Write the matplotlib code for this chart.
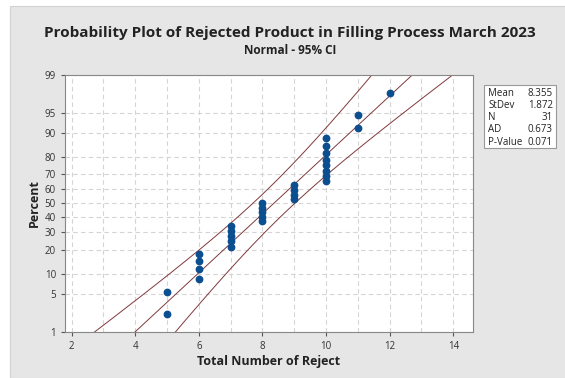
import matplotlib
matplotlib.use("Agg")
import matplotlib.pyplot as plt
from matplotlib.patches import Rectangle
from statistics import NormalDist
import numpy as np

plt.rcParams['font.family'] = ['Open Sans', 'DejaVu Sans']

# reject counts and how many days had each count
reject_values = [5, 6, 7, 8, 9, 10, 11, 12]
reject_counts = [2, 4, 5, 5, 4, 8, 2, 1]

pct_ticks = [1, 5, 10, 20, 30, 40, 50, 60, 70, 80, 90, 95, 99]
x_ticks = [2, 4, 6, 8, 10, 12, 14]

stat_labels = ["Mean", "StDev", "N", "AD", "P-Value"]
stat_values = ["8.355", "1.872", "31", "0.673", "0.071"]

nd = NormalDist()
z = lambda p: nd.inv_cdf(p / 100.0)

data = np.repeat(reject_values, reject_counts)
n = len(data)
mu = data.mean()
sd = data.std(ddof=1)
ranks = np.arange(1, n + 1)
pp = (ranks - 0.3) / (n + 0.4) * 100
zy = np.array([z(p) for p in pp])

fig = plt.figure(figsize=(5.65, 3.78), dpi=100, facecolor='white')
fig.patches.append(Rectangle((10 / 565, 0), 1, 1 - 6 / 378, transform=fig.transFigure,
                             facecolor='#e6e6e6', edgecolor='#d2d2d2', lw=0.8, zorder=-1))

ax = fig.add_axes([65 / 565, 46.3 / 378, 408 / 565, 256.7 / 378])
ax.set_facecolor('white')

# fitted line and 95% CI bands
zz = np.linspace(z(0.5), z(99.5), 200)
xfit = mu + sd * zz
half = 1.96 * sd * np.sqrt((1 + zz ** 2 / 2) / n)
lc = '#80393c'
ax.plot(xfit, zz, color=lc, lw=0.7)
ax.plot(xfit - half, zz, color=lc, lw=0.7)
ax.plot(xfit + half, zz, color=lc, lw=0.7)

ax.plot(data, zy, 'o', color='#0b4f91', ms=4.6, mec='#0b4f91', zorder=3)

ax.set_xlim(1.79, 14.62)
ax.set_ylim(z(1), z(99))
ax.set_xticks(x_ticks)
ax.set_xticks(range(2, 15), minor=True)
ax.set_yticks([z(p) for p in pct_ticks])
ax.set_yticklabels([str(p) for p in pct_ticks])
ax.grid(True, which='both', axis='x', ls=(0, (4, 3)), color='#d4d4d4', lw=0.8)
ax.grid(True, axis='y', ls=(0, (4, 3)), color='#d4d4d4', lw=0.8)
ax.set_axisbelow(True)
ax.tick_params(axis='both', which='major', labelsize=7, colors='#555555', labelcolor='#333333',
               length=3, width=0.8)
ax.tick_params(axis='x', which='minor', length=0)
for s in ax.spines.values():
    s.set_color('#888888')
    s.set_linewidth(0.8)

ax.set_xlabel("Total Number of Reject", fontsize=9, fontweight='bold', color='#222222', labelpad=2)
ax.set_ylabel("Percent", fontsize=9, fontweight='bold', color='#222222', labelpad=3)

fig.text(0.513, 1 - 33 / 378, "Probability Plot of Rejected Product in Filling Process March 2023",
         ha='center', va='center', fontsize=11, fontweight='bold', color='#222222')
fig.text(0.513, 1 - 50 / 378, "Normal - 95% CI", ha='center', va='center',
         fontsize=8.5, fontweight='bold', color='#222222')

# stats box
bx0, by0, bx1, by1 = 484 / 565, 1 - 148 / 378, 556 / 565, 1 - 85 / 378
fig.patches.append(Rectangle((bx0, by0), bx1 - bx0, by1 - by0, transform=fig.transFigure,
                             facecolor='white', edgecolor='#999999', lw=0.8))
for i, (lab, val) in enumerate(zip(stat_labels, stat_values)):
    yy = 1 - (93 + i * 12.3) / 378
    fig.text(bx0 + 4 / 565, yy, lab, ha='left', va='center', fontsize=7, color='#222222')
    fig.text(bx1 - 3 / 565, yy, val, ha='right', va='center', fontsize=7, color='#222222')

fig.savefig("out.png", dpi=100, facecolor=fig.get_facecolor())
